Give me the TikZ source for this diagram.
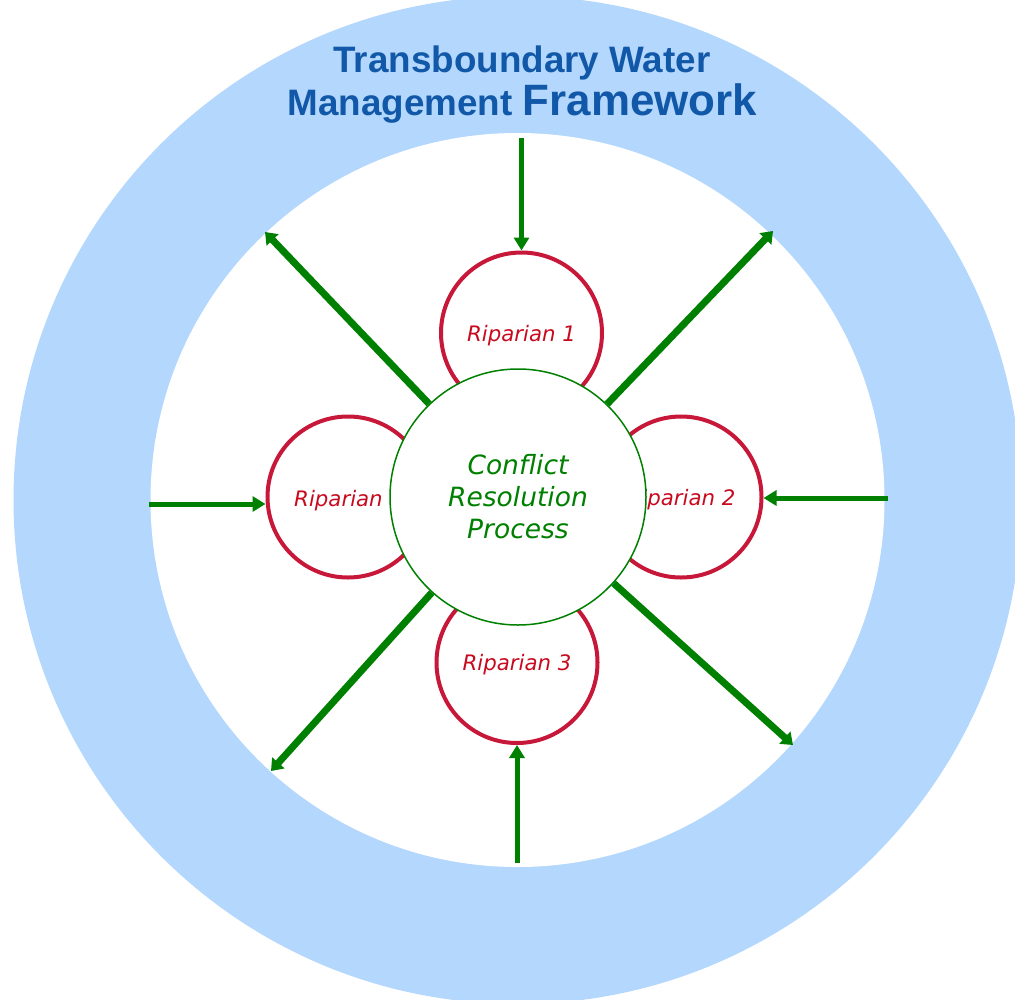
\documentclass[tikz,border=0pt]{standalone}
\usepackage{fontspec}
\newfontfamily\dvfont{DejaVu Sans}
\newfontfamily\libfont{Liberation Sans}
\usetikzlibrary{arrows.meta}
\definecolor{ringblue}{RGB}{180,215,253}
\definecolor{titleblue}{RGB}{17,88,168}
\definecolor{arrowgreen}{RGB}{0,128,0}
\definecolor{ripred}{RGB}{200,24,58}
\definecolor{riptextcol}{RGB}{200,10,30}
\begin{document}
\begin{tikzpicture}[x=1pt,y=-1pt,
  ripcircle/.style={circle,draw=ripred,line width=4pt,fill=white,minimum size=161pt,inner sep=0pt,text depth=0pt,
    font=\dvfont\itshape\fontsize{21.3}{25}\selectfont,text=riptextcol},
  riplabel/.style={inner sep=0pt,font=\dvfont\itshape\fontsize{21.3}{25}\selectfont,text=riptextcol},
  crpcircle/.style={circle,draw=arrowgreen,line width=1.5pt,fill=white,minimum size=256pt,inner sep=0pt,
    align=center,font=\dvfont\itshape\fontsize{26.5}{32}\selectfont,text=arrowgreen},
  titletext/.style={inner sep=0pt,font=\libfont\bfseries\fontsize{36.8}{43}\selectfont,text=titleblue},
  diagarrow/.style={draw=arrowgreen,line width=7pt,-{Triangle[length=11pt,width=16pt]}},
  axarrow/.style={draw=arrowgreen,line width=5pt,-{Triangle[length=13pt,width=15pt]}}]
\useasboundingbox (0,0) rectangle (1015,999);
% ring
\fill[ringblue] (517.5,500) circle[radius=504pt];
\fill[white] (517.5,500) circle[radius=367pt];
% title
\node[titletext,anchor=base] (title1) at (522,72) {Transboundary Water};
\node[titletext,anchor=base] (title2) at (522.5,115) {Management {\fontsize{43.9}{50}\selectfont Framework}};
% free ends
\coordinate (tp) at (521.5,138);
\coordinate (lf) at (149,504);
\coordinate (rg) at (888,498);
\coordinate (bt) at (517,863);
\coordinate (ul) at (265,232);
\coordinate (ur) at (773,231);
\coordinate (ll) at (271,771);
\coordinate (lr) at (793,745);
% riparians
\node[ripcircle] (r1) at (521.5,333) {Riparian 1};
\node[ripcircle] (r2) at (681,497) {Riparian 2};
\node[ripcircle] (r3) at (517,662.5) {Riparian 3};
\node[ripcircle] (r4) at (348,497) {};
\node[riplabel,anchor=base west] (r4t) at (294,506) {Riparian};
% inward arrows
\draw[axarrow] (tp) -- (r1);
\draw[axarrow] (lf) -- (lf -| r4.west);
\draw[axarrow] (rg) -- (rg -| r2.east);
\draw[axarrow] (bt) -- (r3);
% central
\node[crpcircle] (crp) at (518,497) {Conflict\\Resolution\\Process};
% outward arrows
\draw[diagarrow] (crp) -- (ul);
\draw[diagarrow] (crp) -- (ur);
\draw[diagarrow] (crp) -- (ll);
\draw[diagarrow] (crp) -- (lr);
\end{tikzpicture}
\end{document}
